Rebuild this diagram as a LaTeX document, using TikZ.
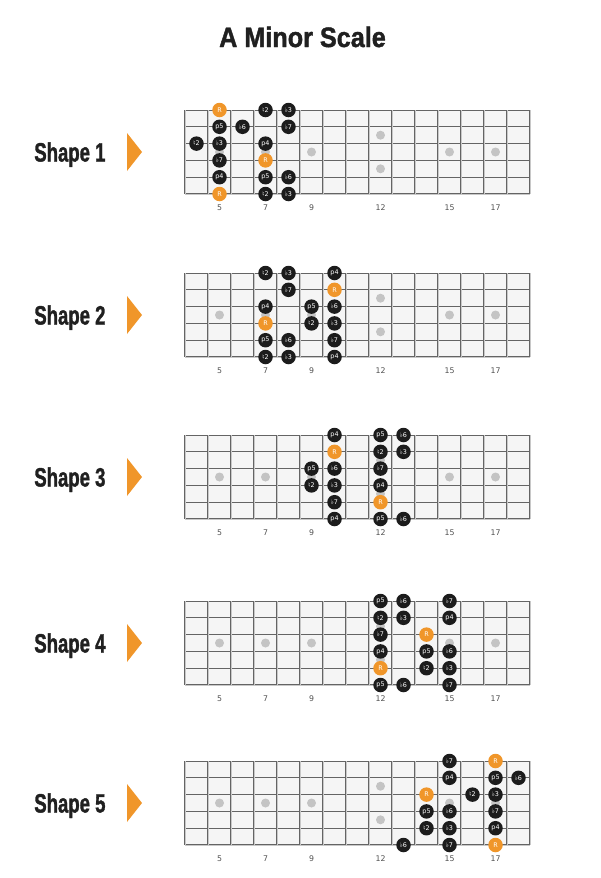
\documentclass[tikz,border=0pt]{standalone}
\usepackage{fontspec}
\setmainfont{Liberation Sans}
\newfontfamily\notefont{DejaVu Sans}
\newfontfamily\heavyfont[BoldFeatures={FakeBold=1.6}]{Liberation Sans}
\usepackage{xcolor}
\definecolor{scaleOrange}{RGB}{240,150,42}
\definecolor{noteBlack}{RGB}{28,28,28}
\definecolor{fretGray}{RGB}{100,100,100}
\definecolor{wireGray}{RGB}{200,200,200}
\definecolor{boardGray}{RGB}{245,245,245}
\definecolor{dotGray}{RGB}{196,196,196}
\definecolor{titleBlack}{RGB}{32,32,32}
\definecolor{numGray}{RGB}{80,80,80}

\tikzset{
  tone/.style={circle, fill=noteBlack, text=white, inner sep=0pt,
    minimum size=14.5pt, font=\notefont\fontsize{6.4}{7}\selectfont},
  root/.style={tone, fill=scaleOrange},
  fretWire/.style={draw=fretGray, line width=1.8pt},
  wireGap/.style={draw=wireGray, line width=0.5pt},
  stringLine/.style={draw=fretGray, line width=1pt},
  fretNum/.style={font=\notefont\fontsize{7.8}{8}\selectfont, text=numGray},
  shapeLabel/.style={font=\heavyfont\bfseries\fontsize{26.5}{28}\selectfont, text=titleBlack},
  titleText/.style={font=\heavyfont\bfseries\fontsize{28}{30}\selectfont, text=titleBlack},
}

\begin{document}
\begin{tikzpicture}[x=1pt, y=-1pt]
  \useasboundingbox (0,0) rectangle (600,878);

  \node[titleText, anchor=base] (title) at (302.5,47) {\scalebox{0.9}[1]{A Minor Scale}};

  \foreach \shapeNo/\ytop/\notes in {
    1/110/{1/5/R/root, 1/7/♮2/tone, 1/8/♭3/tone,
           2/5/p5/tone, 2/6/♭6/tone, 2/8/♭7/tone,
           3/4/♮2/tone, 3/5/♭3/tone, 3/7/p4/tone,
           4/5/♭7/tone, 4/7/R/root,
           5/5/p4/tone, 5/7/p5/tone, 5/8/♭6/tone,
           6/5/R/root, 6/7/♮2/tone, 6/8/♭3/tone},
    2/273/{1/7/♮2/tone, 1/8/♭3/tone, 1/10/p4/tone,
           2/8/♭7/tone, 2/10/R/root,
           3/7/p4/tone, 3/9/p5/tone, 3/10/♭6/tone,
           4/7/R/root, 4/9/♮2/tone, 4/10/♭3/tone,
           5/7/p5/tone, 5/8/♭6/tone, 5/10/♭7/tone,
           6/7/♮2/tone, 6/8/♭3/tone, 6/10/p4/tone},
    3/435/{1/10/p4/tone, 1/12/p5/tone, 1/13/♭6/tone,
           2/10/R/root, 2/12/♮2/tone, 2/13/♭3/tone,
           3/9/p5/tone, 3/10/♭6/tone, 3/12/♭7/tone,
           4/9/♮2/tone, 4/10/♭3/tone, 4/12/p4/tone,
           5/10/♭7/tone, 5/12/R/root,
           6/10/p4/tone, 6/12/p5/tone, 6/13/♭6/tone},
    4/601/{1/12/p5/tone, 1/13/♭6/tone, 1/15/♭7/tone,
           2/12/♮2/tone, 2/13/♭3/tone, 2/15/p4/tone,
           3/12/♭7/tone, 3/14/R/root,
           4/12/p4/tone, 4/14/p5/tone, 4/15/♭6/tone,
           5/12/R/root, 5/14/♮2/tone, 5/15/♭3/tone,
           6/12/p5/tone, 6/13/♭6/tone, 6/15/♭7/tone},
    5/761/{1/15/♭7/tone, 1/17/R/root,
           2/15/p4/tone, 2/17/p5/tone, 2/18/♭6/tone,
           3/14/R/root, 3/16/♮2/tone, 3/17/♭3/tone,
           4/14/p5/tone, 4/15/♭6/tone, 4/17/♭7/tone,
           5/14/♮2/tone, 5/15/♭3/tone, 5/17/p4/tone,
           6/13/♭6/tone, 6/15/♭7/tone, 6/17/R/root}}
  {
    % label and arrow
    \node[shapeLabel, anchor=base east] (label\shapeNo) at (109,\ytop+51.5)
      {\scalebox{0.7}[1]{Shape \shapeNo}};
    \fill[scaleOrange] (127,\ytop+23) -- (142,\ytop+42) -- (127,\ytop+61) -- cycle;

    % board
    \fill[boardGray] (185,\ytop) rectangle (530,\ytop+84);
    \foreach \s in {1,...,4}
      \draw[stringLine] (185,\ytop+\s*16.8-16.8) -- (530,\ytop+\s*16.8-16.8);
    \draw[stringLine, line width=1.4pt] (185,\ytop+67.2) -- (530,\ytop+67.2);
    \draw[fretWire, line width=2.4pt] (185,\ytop+84) -- (530,\ytop+84);
    \draw[wireGap, line width=0.6pt] (185,\ytop+84) -- (530,\ytop+84);
    \foreach \k in {0,...,15}
    {
      \draw[fretWire] (185+\k*23,\ytop) -- (185+\k*23,\ytop+84);
      \draw[wireGap] (185+\k*23,\ytop) -- (185+\k*23,\ytop+84);
    }

    % inlays
    \foreach \f in {5,7,9,15,17}
      \fill[dotGray] ({185+(\f-3.5)*23},\ytop+42) circle (4.5);
    \fill[dotGray] ({185+8.5*23},\ytop+25.2) circle (4.5);
    \fill[dotGray] ({185+8.5*23},\ytop+58.8) circle (4.5);

    % fret numbers
    \foreach \f in {5,7,9,12,15,17}
      \node[fretNum] (num\shapeNo-\f) at ({185+(\f-3.5)*23},\ytop+98) {\f};

    % notes
    \foreach \s/\f/\lab/\kind in \notes
      \node[\kind] (n\shapeNo-\s-\f) at ({185+(\f-3.5)*23},{\ytop+(\s-1)*16.8}) {\lab};
  }
\end{tikzpicture}
\end{document}
